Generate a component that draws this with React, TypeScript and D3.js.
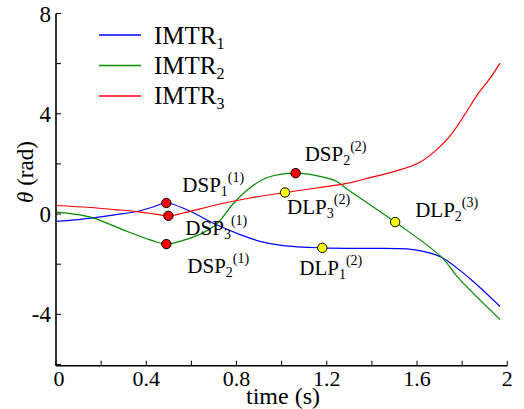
import React, { useEffect, useRef } from "react";
import * as d3 from "d3";

// ---- data ----
const blueT = [0, 0.1, 0.164, 0.26, 0.358, 0.43, 0.489, 0.58, 0.712, 0.816, 0.904, 1.006, 1.18, 1.35, 1.555, 1.627, 1.71, 1.835, 1.968];
const blueV = [-0.29, -0.22, -0.15, -0.03, 0.1, 0.28, 0.44, 0.17, -0.43, -0.82, -1.09, -1.26, -1.35, -1.37, -1.39, -1.49, -1.73, -2.58, -3.69];

const greenT = [0, 0.08, 0.164, 0.298, 0.417, 0.489, 0.563, 0.64, 0.712, 0.786, 0.86, 0.934, 1.062, 1.17, 1.244, 1.289, 1.348, 1.503, 1.71, 1.783, 1.968];
const greenV = [0.08, 0.0, -0.15, -0.63, -1.03, -1.2, -1.05, -0.8, -0.4, 0.42, 1.05, 1.45, 1.63, 1.5, 1.3, 1.0, 0.64, -0.32, -1.73, -2.55, -4.21];

const redT = [0, 0.151, 0.26, 0.358, 0.44, 0.498, 0.564, 0.712, 0.86, 1.015, 1.156, 1.289, 1.392, 1.5, 1.613, 1.702, 1.761, 1.82, 1.872, 1.924, 1.968];
const redV = [0.34, 0.26, 0.18, 0.1, 0.0, -0.07, 0.04, 0.37, 0.64, 0.86, 1.04, 1.22, 1.45, 1.7, 2.07, 2.69, 3.29, 4.09, 4.82, 5.42, 6.02];

const seriesNames = ["IMTR", "IMTR", "IMTR"];
const seriesSubs = ["1", "2", "3"];
const seriesColors = ["#0000ff", "#008a00", "#ff0000"];

const pointNames = ["DSP", "DSP", "DSP", "DSP", "DLP", "DLP", "DLP"];
const pointSubs = ["1", "3", "2", "2", "3", "1", "2"];
const pointSups = ["(1)", "(1)", "(1)", "(2)", "(2)", "(2)", "(3)"];
const pointT = [0.489, 0.498, 0.489, 1.062, 1.015, 1.18, 1.503];
const pointV = [0.44, -0.07, -1.2, 1.63, 0.86, -1.35, -0.32];
const pointKinds = ["DSP", "DSP", "DSP", "DSP", "DLP", "DLP", "DLP"];
// label offsets (px) relative to the point
const labelDx = [16, 17, 21, 9, 2, -23, 20];
const labelDy = [-11, 19, 29, -12, 21.5, 27, -5];

const xTicks = [0, 0.2, 0.4, 0.6, 0.8, 1.0, 1.2, 1.4, 1.6, 1.8, 2.0];
const xLabels = ["0", "0.4", "0.8", "1.2", "1.6", "2"];
const xLabelVals = [0, 0.4, 0.8, 1.2, 1.6, 2];
const yTicks = [-6, -4, -2, 0, 2, 4, 6, 8];
const yLabelVals = [-4, 0, 4, 8];
const yLabels = ["-4", "0", "4", "8"];

const SERIF = "'Liberation Serif', 'Times New Roman', Tinos, serif";

export default function App() {
  const ref = useRef<SVGSVGElement>(null);
  const W = 524, H = 409;

  useEffect(() => {
    const svg = d3.select(ref.current);
    svg.selectAll("*").remove();
    const x = d3.scaleLinear().domain([0, 2]).range([56, 507.3]);
    const y = d3.scaleLinear().domain([-6.05, 8]).range([365.7, 13.5]);
    const line = d3
      .line<[number, number]>()
      .x((d) => x(d[0]))
      .y((d) => y(d[1]))
      .curve(d3.curveCatmullRom.alpha(0.5));
    const series = [
      blueT.map((t, i) => [t, blueV[i]] as [number, number]),
      greenT.map((t, i) => [t, greenV[i]] as [number, number]),
      redT.map((t, i) => [t, redV[i]] as [number, number]),
    ];
    const x0 = x(0), yb = y(-6.05);

    svg.append("rect").attr("width", W).attr("height", H).attr("fill", "#fff");
    series.forEach((s, i) => {
      svg.append("path").attr("d", line(s) || "").attr("fill", "none")
        .attr("stroke", seriesColors[i]).attr("stroke-width", 1.2);
    });
    svg.append("line").attr("x1", x0).attr("x2", x0).attr("y1", y(8)).attr("y2", yb)
      .attr("stroke", "#000").attr("stroke-width", 1.6);
    svg.append("line").attr("x1", x0).attr("x2", x(2)).attr("y1", yb).attr("y2", yb)
      .attr("stroke", "#000").attr("stroke-width", 1.6);
    xTicks.forEach((t) => {
      svg.append("line").attr("x1", x(t)).attr("x2", x(t)).attr("y1", yb).attr("y2", yb - 5)
        .attr("stroke", "#000").attr("stroke-width", 1);
    });
    yTicks.forEach((t) => {
      svg.append("line").attr("x1", x0).attr("x2", x0 + 5).attr("y1", y(t)).attr("y2", y(t))
        .attr("stroke", "#000").attr("stroke-width", 1);
    });
    const txt = (sel: any) => sel.style("font-family", SERIF).attr("font-family", SERIF).attr("fill", "#000");
    xLabelVals.forEach((v, i) => {
      txt(svg.append("text")).attr("x", x(v) + (i === 0 ? 3 : 0)).attr("y", 385.5)
        .attr("font-size", 22).attr("text-anchor", "middle").text(xLabels[i]);
    });
    yLabelVals.forEach((v, i) => {
      txt(svg.append("text")).attr("x", 51).attr("y", y(v) + 8)
        .attr("font-size", 23).attr("text-anchor", "end").text(yLabels[i]);
    });
    txt(svg.append("text")).attr("x", 283).attr("y", 404).attr("font-size", 24)
      .attr("text-anchor", "middle").text("time (s)");
    const yl = txt(svg.append("text")).attr("transform", "translate(33,172) rotate(-90)")
      .attr("font-size", 23).attr("text-anchor", "middle");
    yl.append("tspan").attr("font-style", "italic").text("θ");
    yl.append("tspan").text(" (rad)");

    seriesNames.forEach((n, i) => {
      svg.append("line").attr("x1", 99).attr("x2", 141).attr("y1", 35 + i * 30.5).attr("y2", 35 + i * 30.5)
        .attr("stroke", seriesColors[i]).attr("stroke-width", 1.3);
      const t = txt(svg.append("text")).attr("x", 154).attr("y", 44 + i * 30).attr("font-size", 25);
      t.append("tspan").text(n);
      t.append("tspan").attr("font-size", 16).attr("dy", 5).text(seriesSubs[i]);
    });

    pointT.forEach((t, i) => {
      svg.append("circle").attr("cx", x(t)).attr("cy", y(pointV[i])).attr("r", 4.7)
        .attr("fill", pointKinds[i] === "DSP" ? "#ff0000" : "#ffff00")
        .attr("stroke", "#000").attr("stroke-width", 1);
    });
    pointT.forEach((t, i) => {
      const lab = txt(svg.append("text")).attr("x", x(t) + labelDx[i]).attr("y", y(pointV[i]) + labelDy[i])
        .attr("font-size", 21);
      lab.append("tspan").text(pointNames[i]);
      lab.append("tspan").attr("font-size", 14).attr("dy", 4).text(pointSubs[i]);
      lab.append("tspan").attr("font-size", 14).attr("dy", -14).text(pointSups[i]);
    });
  }, []);

  return (
    <svg ref={ref} width={W} height={H}
      style={{ position: "absolute", left: 0, top: 0, fontFamily: "Liberation Serif" }} />
  );
}
